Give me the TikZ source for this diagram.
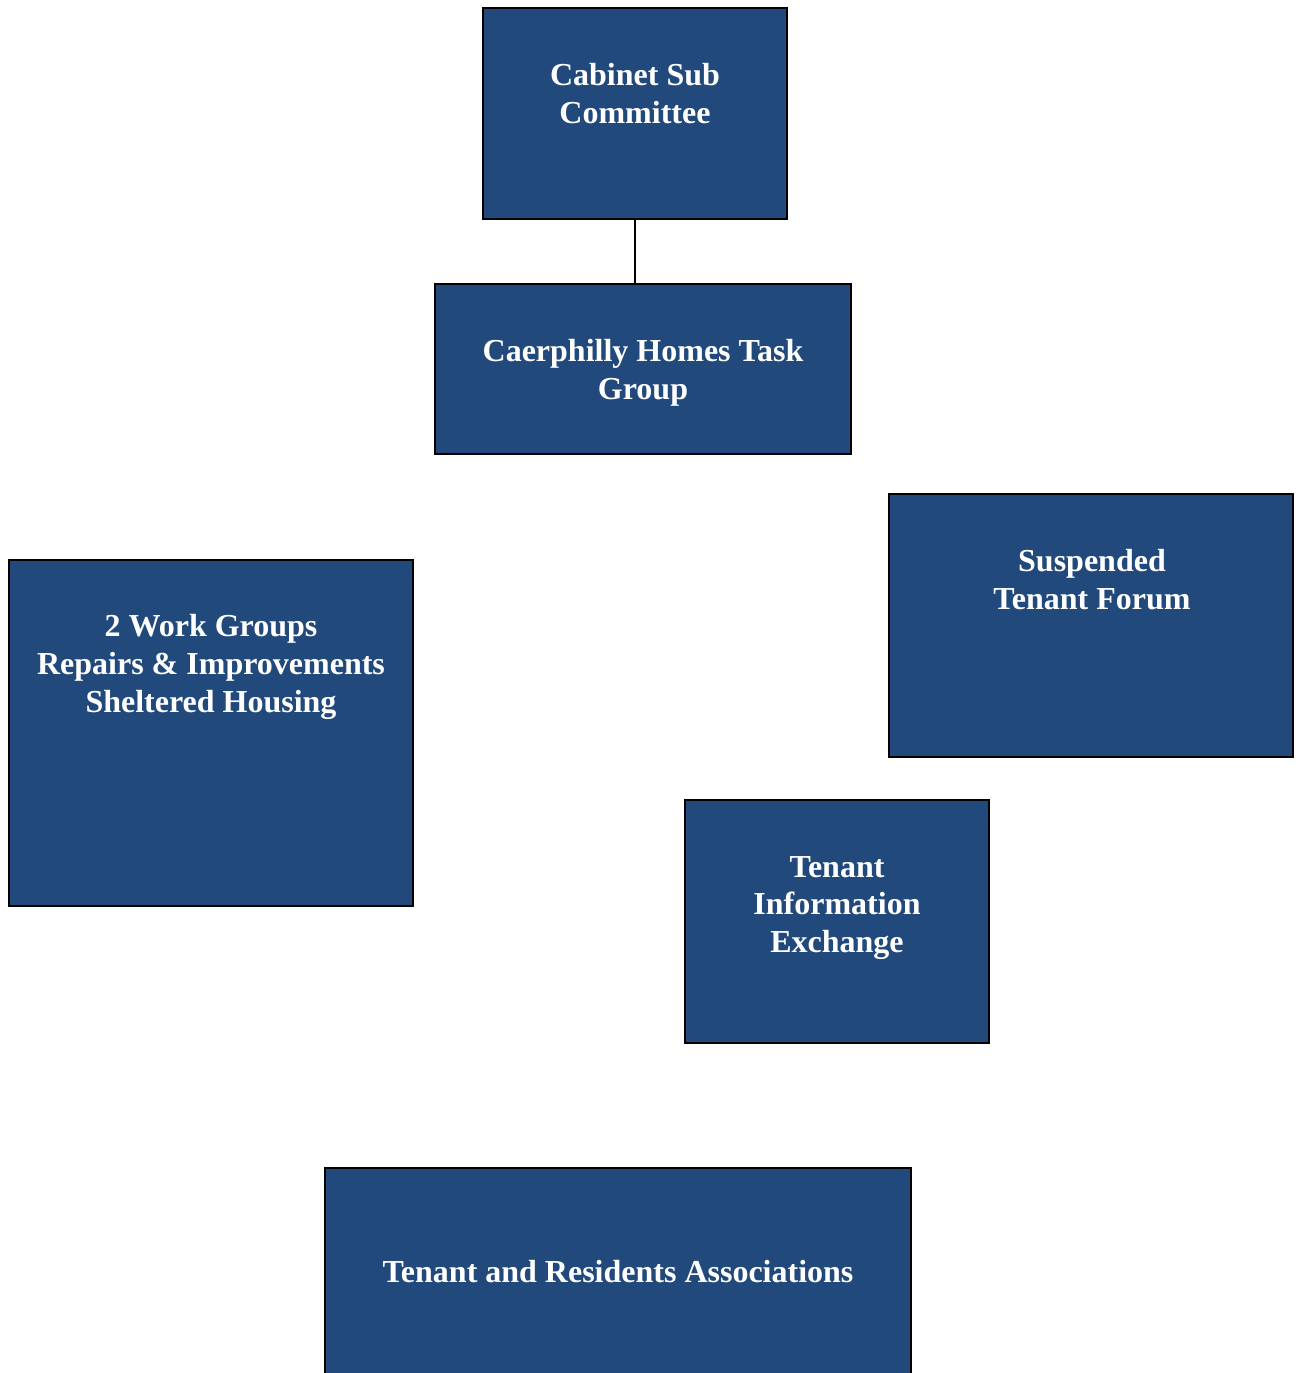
\documentclass[tikz,border=0pt]{standalone}
\usepackage{fontspec}
\setmainfont{Liberation Serif}
\begin{document}
\begin{tikzpicture}[x=0.5pt,y=-0.5pt,
  box/.style={draw=black,line width=1pt,fill=boxblue,inner sep=0pt,anchor=north west},
  lbl/.style={text=white,font=\fontsize{16}{18.8}\selectfont\bfseries,align=center,inner sep=0pt},
  conn/.style={draw=black,line width=0.8pt}]
\definecolor{boxblue}{HTML}{21497B}
\useasboundingbox (0,0) rectangle (1301,1373);
\node[box,minimum width=152pt,minimum height=105.5pt] (cab) at (482,7) {};
\node[box,minimum width=208pt,minimum height=85pt] (task) at (434,283) {};
\node[box,minimum width=202pt,minimum height=131.5pt] (forum) at (888,493) {};
\node[box,minimum width=202pt,minimum height=173pt] (work) at (8,559) {};
\node[box,minimum width=152pt,minimum height=121.5pt] (tie) at (684,799) {};
\node[box,minimum width=293pt,minimum height=106pt] (tra) at (324,1167) {};
\node[lbl] (cabt) at (635,93.5) {Cabinet Sub\\Committee};
\node[lbl] (taskt) at (643,372.5) {Caerphilly Homes Task\\Group};
\node[lbl] (forumt) at (1092,579.5) {Suspended\\Tenant Forum};
\node[lbl] (workt) at (211,667) {2 Work Groups\\Repairs \& Improvements\\Sheltered Housing};
\node[lbl] (tiet) at (837,908) {Tenant\\Information\\Exchange};
\node[lbl] (trat) at (618,1272) {Tenant and Residents Associations};
\draw[conn] (cab.south) -- (cab.south |- task.north);
\end{tikzpicture}
\end{document}
